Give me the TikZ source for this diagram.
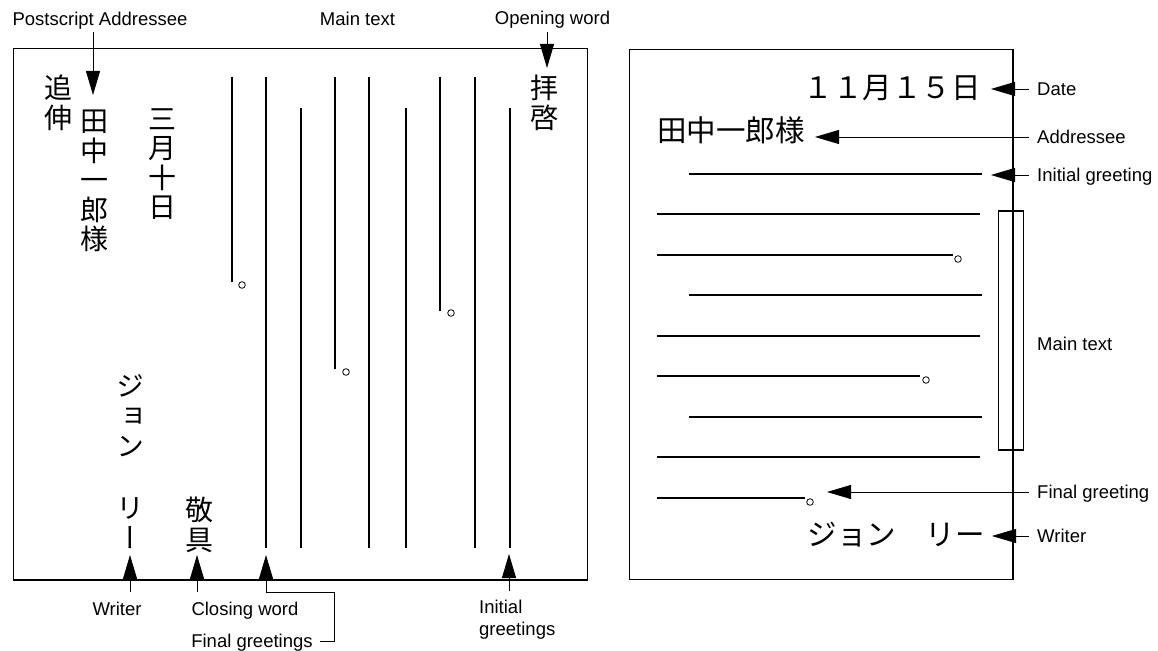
\documentclass[tikz,border=0pt]{standalone}
\usepackage{fontspec}
\setmainfont{Liberation Sans}
\newfontfamily\jp{Noto Sans CJK JP}
\newfontfamily\jpv[RawFeature=+vert]{Noto Sans CJK JP}
\usetikzlibrary{arrows.meta, calc}

\begin{document}
\begin{tikzpicture}[
    x=1pt, y=-1pt,
    >={Triangle[length=24pt, width=14pt]},
    frame/.style={line width=1.1pt},
    rule/.style={line width=1.6pt},
    lbl/.style={font=\fontsize{18.5}{21.5}\selectfont},
    tag/.style={lbl, text height=13.2pt, text depth=0pt},
    vcol/.style={font=\jp\fontsize{28}{29.5}\selectfont, align=center,
                 anchor=north, inner sep=0pt},
    htext/.style={font=\jp\fontsize{29.5}{30}\selectfont, anchor=east},
    arr/.style={->, line width=0.9pt}
  ]
  \useasboundingbox (0,0) rectangle (1158,650);

  % vertical letter
  \draw[frame] (13.5,48.5) rectangle (587.5,580);
  \foreach \xx/\ya/\yb in {232/77/282, 266/77/548, 301/108/548, 335/77/369,
      369/77/548, 406/108/548, 440/77/311, 475/77/548, 510/108/548}
    \draw[rule] (\xx,\ya) -- (\xx,\yb);
  \foreach \xx/\yy in {242/285, 346/372, 451/313}
    \draw[line width=0.8pt] (\xx,\yy) circle (3.3pt);

  \node[vcol] (tsuishin) at (58,75) {追\\伸};
  \node[vcol] (atesaki) at (94,110) {田\\中\\一\\郎\\様};
  \node[vcol] (hizuke) at (162,108) {三\\月\\十\\日};
  \node[vcol] (haikei) at (544,75) {拝\\啓};
  \node[vcol, font=\jpv\fontsize{28}{30}\selectfont] (jon) at (130,374) {ジ\\ョ\\ン};
  \node[vcol, font=\jpv\fontsize{28}{30}\selectfont] (lee) at (130,497) {リ\\ー};
  \node[vcol] (keigu) at (199,497) {敬\\具};

  \node[tag] (lPS) at (100,19) {Postscript Addressee};
  \node[tag] (lMain) at (357.5,18.5) {Main text};
  \node[tag] (lOpen) at (552.5,17.5) {Opening word};
  \coordinate (psTip) at (93,95);
  \coordinate (opTip) at (547,68);
  \draw[arr, shorten <=3pt] (psTip |- lPS.south) -- (psTip);
  \draw[arr, shorten <=4pt] (opTip |- lOpen.south) -- (opTip);

  \node[tag] (lWriter) at (117,608.5) {Writer};
  \node[tag] (lClose) at (245,608.5) {Closing word};
  \node[tag] (lFinal) at (252,641) {Final greetings};
  \node[lbl, align=left, anchor=west, inner sep=0pt] (lInit) at (479,619.5) {Initial\\greetings};
  \coordinate (wrTip) at (130,555);
  \coordinate (clTip) at (197,555);
  \coordinate (fgTip) at (266,555);
  \coordinate (fgBend) at (334,592);
  \coordinate (inTip) at (509,554);
  \draw[arr, shorten <=6.5pt] (wrTip |- lWriter.north) -- (wrTip);
  \draw[arr, shorten <=6.5pt] (clTip |- lClose.north) -- (clTip);
  \draw[arr, shorten <=4pt] (lFinal.east) -| (fgBend) -| (fgTip);
  \draw[arr, shorten <=9pt] (inTip |- lInit.north) -- (inTip);

  % horizontal letter
  \draw[frame] (629.5,49.5) rectangle (1013,579.5);
  \foreach \yy/\xa/\xb in {174/689/982, 214/657/980, 255/657/953, 295/689/982,
      336/657/980, 376/657/920, 417/689/982, 457/657/980, 498/657/805}
    \draw[rule] (\xa,\yy) -- (\xb,\yy);
  \foreach \xx/\yy in {958/259, 926/380, 810/502}
    \draw[line width=0.8pt] (\xx,\yy) circle (3.3pt);

  \node[htext, inner xsep=10pt] (dateR) at (991,88.5) {１１月１５日};
  \node[htext, inner xsep=10pt] (atenaR) at (815,130) {田中一郎様};
  \node[htext, inner xsep=7pt] (writerR) at (992,535) {ジョン　リー};
  \node[draw, frame, minimum width=25pt, minimum height=239pt, inner sep=0pt]
    (mainBox) at (1011,330.5) {};

  \node[tag, anchor=west, inner xsep=8pt] (rDate) at (1029,89) {Date};
  \node[tag, anchor=west, inner xsep=8pt] (rAddr) at (1029,137) {Addressee};
  \node[tag, anchor=west, inner xsep=8pt] (rInit) at (1029,175) {Initial greeting};
  \node[tag, anchor=west, inner xsep=8pt] (rMain) at (1029,344) {Main text};
  \node[tag, anchor=west, inner xsep=8pt] (rFinal) at (1029,492) {Final greeting};
  \node[tag, anchor=west, inner xsep=8pt] (rWriter) at (1029,536) {Writer};
  \coordinate (igTip) at (991,176);
  \coordinate (fgTipR) at (827,493);
  \draw[arr] (rDate.west) -- (rDate.west -| dateR.east);
  \draw[arr] (rAddr.west) -- (rAddr.west -| atenaR.east);
  \draw[arr] (rInit.west) -- (rInit.west -| igTip);
  \draw[arr] (rFinal.west) -- (rFinal.west -| fgTipR);
  \draw[arr] (rWriter.west) -- (rWriter.west -| writerR.east);
\end{tikzpicture}
\end{document}
